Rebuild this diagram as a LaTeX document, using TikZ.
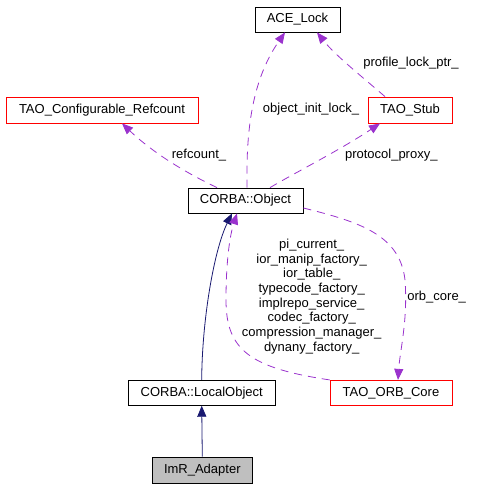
\documentclass[tikz,border=0pt]{standalone}
\usepackage{fontspec}
\setmainfont{Liberation Sans}
\usetikzlibrary{arrows.meta}
\definecolor{edgepurple}{RGB}{154,50,205}
\definecolor{inhblue}{RGB}{25,25,112}
\definecolor{boxgray}{RGB}{191,191,191}
\begin{document}
\begin{tikzpicture}[x=1pt,y=-1pt,
 box/.style={draw=black,line width=0.8pt,minimum height=25pt,inner sep=0pt,font=\fontsize{13}{14.7}\selectfont},
 redbox/.style={box,draw=red},
 inh/.style={draw=inhblue,line width=0.8pt,-{Triangle[length=11pt,width=9pt]}},
 use/.style={draw=edgepurple,line width=0.8pt,dash pattern=on 8pt off 6pt,-{Triangle[length=11pt,width=9pt]}},
 lbl/.style={font=\fontsize{13}{14.7}\selectfont,inner sep=0pt,align=center}]
\useasboundingbox (0,0) rectangle (487,488);
\node[box,minimum width=85pt] (ace) at (297.5,19.5) {ACE\_Lock};
\node[redbox,minimum width=192pt,minimum height=26pt] (refc) at (102,110) {TAO\_Configurable\_Refcount};
\node[redbox,minimum width=84pt,minimum height=26pt] (stub) at (410,110) {TAO\_Stub};
\node[box,minimum width=115pt] (obj) at (245.5,200.5) {CORBA::Object};
\node[box,minimum width=147pt] (local) at (201.7,392.8) {CORBA::LocalObject};
\node[redbox,minimum width=122pt] (orb) at (391,392.8) {TAO\_ORB\_Core};
\node[box,fill=boxgray,minimum width=100pt,minimum height=26pt] (imr) at (202.3,470) {ImR\_Adapter};

\draw[inh] (imr.north) -- (local.south);
\draw[inh] (local.north) .. controls (202,320) and (214,250) .. ([xshift=-13.5pt]obj.south);
\draw[use] (orb.north west) .. controls (250,368) and (226,350) .. (226,300) .. controls (226,260) and (230,235) .. ([xshift=-8.5pt]obj.south);
\draw[use] ([yshift=-7.5pt]obj.east) .. controls (360,222) and (400,235) .. (405,280) .. controls (408,320) and (400,350) .. ([xshift=7pt]orb.north);
\draw[use] ([xshift=-28.5pt]obj.north) .. controls (180,170) and (150,150) .. ([xshift=20pt]refc.south);
\draw[use] ([xshift=1.5pt]obj.north) .. controls (246,130) and (252,80) .. ([xshift=-12.5pt]ace.south);
\draw[use] ([xshift=24.5pt]obj.north) .. controls (300,170) and (340,150) .. ([xshift=-30pt]stub.south);
\draw[use] ([xshift=-25pt]stub.north) .. controls (360,75) and (335,55) .. ([xshift=19.5pt]ace.south);

\node[lbl] (lprof) at (411,63) {profile\_lock\_ptr\_};
\node[lbl] (linit) at (311,109) {object\_init\_lock\_};
\node[lbl] (lref) at (199,155) {refcount\_};
\node[lbl] (lproto) at (391.3,155) {protocol\_proxy\_};
\node[lbl] (lmulti) at (311.7,296.5) {pi\_current\_\\ior\_manip\_factory\_\\ior\_table\_\\typecode\_factory\_\\implrepo\_service\_\\codec\_factory\_\\compression\_manager\_\\dynany\_factory\_};
\node[lbl] (lorb) at (436.7,297) {orb\_core\_};
\end{tikzpicture}
\end{document}
